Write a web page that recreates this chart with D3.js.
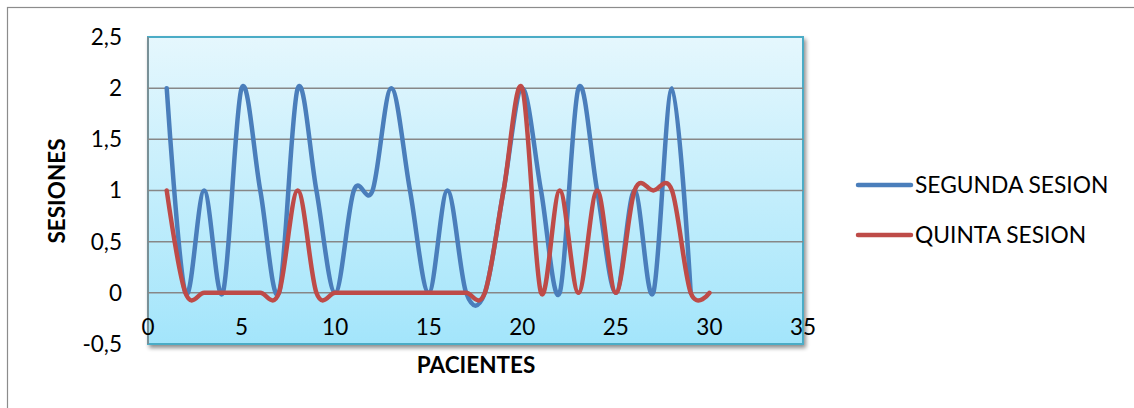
<!DOCTYPE html>
<html>
<head>
<meta charset="utf-8">
<script src="https://cdn.jsdelivr.net/npm/d3@7"></script>
<style>
  html, body { margin: 0; padding: 0; background: #fff; }
  svg { display: block; }
  text { font-family: Lato, "Open Sans", sans-serif; fill: #000; }
</style>
</head>
<body>
<svg id="chart" width="1134" height="408"></svg>
<script>
// Patients 1..30 and sessions scored per patient
const segundaX = [1,2,3,4,5,6,7,8,9,10,11,12,13,14,15,16,17,18,19,20,21,22,23,24,25,26,27,28,29];
const segundaY = [2,0,1,0,2,1,0,2,1,0,1,1,2,1,0,1,0,0,1,2,1,0,2,1,0,1,0,2,0];
const quintaX  = [1,2,3,4,5,6,7,8,9,10,11,12,13,14,15,16,17,18,19,20,21,22,23,24,25,26,27,28,29,30];
const quintaY  = [1,0,0,0,0,0,0,1,0,0,0,0,0,0,0,0,0,0,1,2,0,1,0,1,0,1,1,1,0,0];
const xTicks = [0,5,10,15,20,25,30,35];
const yTicks = [-0.5,0,0.5,1,1.5,2,2.5];
const seriesNames = ["SEGUNDA SESION", "QUINTA SESION"];
const seriesColors = ["#4a7ebb", "#be4b48"];

const svg = d3.select("#chart");
const plot = { left: 148, top: 37, right: 803, bottom: 344 };

const x = d3.scaleLinear().domain([0, 35]).range([plot.left, plot.right]);
const y = d3.scaleLinear().domain([-0.5, 2.5]).range([plot.bottom, plot.top]);

const defs = svg.append("defs");
const grad = defs.append("linearGradient").attr("id", "bg").attr("x1", 0).attr("y1", 0).attr("x2", 0).attr("y2", 1);
grad.append("stop").attr("offset", "0%").attr("stop-color", "#e5f7fd");
grad.append("stop").attr("offset", "100%").attr("stop-color", "#a3e5fb");
const sh = defs.append("filter").attr("id", "shadow").attr("x", "-5%").attr("y", "-5%").attr("width", "110%").attr("height", "115%");
sh.append("feGaussianBlur").attr("in", "SourceAlpha").attr("stdDeviation", 2);
sh.append("feOffset").attr("dx", 2).attr("dy", 3).attr("result", "b");
sh.append("feComponentTransfer").append("feFuncA").attr("type", "linear").attr("slope", 0.45);
const m = sh.append("feMerge");
m.append("feMergeNode");
m.append("feMergeNode").attr("in", "SourceGraphic");

// Outer chart frame
svg.append("rect").attr("x", 7.5).attr("y", 7.5).attr("width", 1140).attr("height", 420)
  .attr("fill", "#fff").attr("stroke", "#8c8c8c").attr("stroke-width", 1.2);

// Plot area
svg.append("rect")
  .attr("x", plot.left).attr("y", plot.top)
  .attr("width", plot.right - plot.left).attr("height", plot.bottom - plot.top)
  .attr("fill", "url(#bg)").attr("stroke", "#4bacc6").attr("stroke-width", 2)
  .attr("filter", "url(#shadow)");

// Horizontal gridlines
svg.append("g").selectAll("line").data(yTicks.filter(d => d > -0.5 && d < 2.5))
  .join("line")
  .attr("x1", plot.left).attr("x2", plot.right)
  .attr("y1", d => y(d)).attr("y2", d => y(d))
  .attr("stroke", "#878787").attr("stroke-width", 1.5);

// Vertical axis line
svg.append("line").attr("x1", plot.left).attr("x2", plot.left)
  .attr("y1", plot.top).attr("y2", plot.bottom)
  .attr("stroke", "#878787").attr("stroke-width", 1.5);

// Y tick labels
const fmt = d => String(d).replace(".", ",");
svg.append("g").selectAll("text").data(yTicks).join("text")
  .attr("x", 122).attr("y", d => y(d)).attr("dy", "0.35em")
  .attr("text-anchor", "end").attr("font-size", 22.5).text(fmt);

// X tick labels (axis crosses at y = 0)
svg.append("g").selectAll("text").data(xTicks).join("text")
  .attr("x", d => x(d)).attr("y", y(0) + 42).attr("text-anchor", "middle")
  .attr("font-size", 22.5).text(fmt);

// Axis titles
svg.append("text").attr("x", 476).attr("y", 373).attr("text-anchor", "middle")
  .attr("font-size", 22.5).attr("font-weight", "bold").text("PACIENTES");
svg.append("text").attr("transform", "translate(65,191) rotate(-90)")
  .attr("text-anchor", "middle").attr("font-size", 22.5).attr("font-weight", "bold").text("SESIONES");

// Smoothed series lines
const line = d3.line().x(d => x(d[0])).y(d => y(d[1])).curve(d3.curveCardinal.tension(0));
const series = [
  d3.zip(segundaX, segundaY),
  d3.zip(quintaX, quintaY)
];
svg.append("g").selectAll("path").data(series).join("path")
  .attr("d", line)
  .attr("fill", "none")
  .attr("stroke", (d, i) => seriesColors[i])
  .attr("stroke-width", 4.5)
  .attr("stroke-linecap", "round").attr("stroke-linejoin", "round");

// Legend
const leg = svg.append("g").selectAll("g").data(seriesNames).join("g")
  .attr("transform", (d, i) => `translate(858,${185 + i * 50})`);
leg.append("line").attr("x1", 0).attr("x2", 53).attr("y1", 0).attr("y2", 0)
  .attr("stroke", (d, i) => seriesColors[i]).attr("stroke-width", 4.5).attr("stroke-linecap", "round");
leg.append("text").attr("x", 57).attr("y", 0).attr("dy", "0.36em").attr("font-size", 22.8).text(d => d);
</script>
</body>
</html>
